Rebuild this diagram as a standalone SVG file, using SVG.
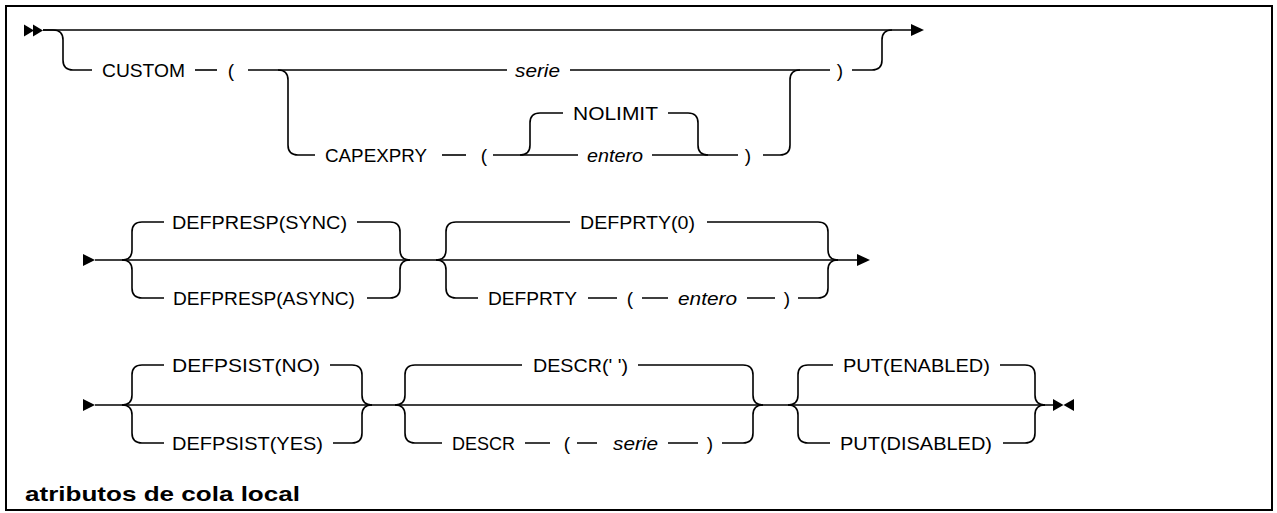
<svg xmlns="http://www.w3.org/2000/svg" width="1277" height="513" viewBox="0 0 1277 513">
<style>
.ln{fill:none;stroke:#000;stroke-width:1.6}
.t{font-family:"Liberation Sans",Arial,sans-serif;font-size:19px;fill:#000}
.i{font-style:italic}
.m{text-anchor:middle}
.ttl{font-family:"Liberation Sans",Arial,sans-serif;font-size:21px;font-weight:bold;fill:#000}
.ah{fill:#000}
</style>
<rect x="6" y="6" width="1266" height="504" fill="#fff" stroke="#000" stroke-width="2"/>
<g id="connectors">
<path class="ln" d="M43,30 H911"/>
<path class="ln" d="M43,30 H53 Q63,30 63,40 V60 Q63,70 73,70 H92"/>
<path class="ln" d="M195,70 H217"/>
<path class="ln" d="M248,70 H507"/>
<path class="ln" d="M570,70 H830"/>
<path class="ln" d="M278,70 Q288,70 288,80 V145 Q288,155 298,155 H315"/>
<path class="ln" d="M442,155 H466"/>
<path class="ln" d="M493,155 H578"/>
<path class="ln" d="M520,155 Q530,155 530,145 V123 Q530,113 540,113 H563"/>
<path class="ln" d="M668,113 H688 Q698,113 698,123 V145 Q698,155 708,155"/>
<path class="ln" d="M652,155 H738"/>
<path class="ln" d="M763,155 H780 Q790,155 790,145 V80 Q790,70 800,70"/>
<path class="ln" d="M852,70 H872 Q882,70 882,60 V40 Q882,30 892,30"/>
<path class="ln" d="M95,260 H857"/>
<path class="ln" d="M122,260 Q132,260 132,250 V232 Q132,222 142,222 H164"/>
<path class="ln" d="M122,260 Q132,260 132,270 V288 Q132,298 142,298 H164"/>
<path class="ln" d="M357,222 H390 Q400,222 400,232 V250 Q400,260 410,260"/>
<path class="ln" d="M367,298 H390 Q400,298 400,288 V270 Q400,260 410,260"/>
<path class="ln" d="M436,260 Q446,260 446,250 V232 Q446,222 456,222 H570"/>
<path class="ln" d="M436,260 Q446,260 446,270 V288 Q446,298 456,298 H478"/>
<path class="ln" d="M707,222 H818 Q828,222 828,232 V250 Q828,260 838,260"/>
<path class="ln" d="M798,298 H818 Q828,298 828,288 V270 Q828,260 838,260"/>
<path class="ln" d="M588,298 H617 M642,298 H668 M747,298 H775"/>
<path class="ln" d="M95,405 H1053"/>
<path class="ln" d="M122,405 Q132,405 132,395 V375 Q132,365 142,365 H164"/>
<path class="ln" d="M122,405 Q132,405 132,415 V433 Q132,443 142,443 H164"/>
<path class="ln" d="M330,365 H352 Q362,365 362,375 V395 Q362,405 372,405"/>
<path class="ln" d="M333,443 H352 Q362,443 362,433 V415 Q362,405 372,405"/>
<path class="ln" d="M395,405 Q405,405 405,395 V375 Q405,365 415,365 H522"/>
<path class="ln" d="M395,405 Q405,405 405,415 V433 Q405,443 415,443 H442"/>
<path class="ln" d="M638,365 H743 Q753,365 753,375 V395 Q753,405 763,405"/>
<path class="ln" d="M722,443 H743 Q753,443 753,433 V415 Q753,405 763,405"/>
<path class="ln" d="M525,443 H550 M577,443 H597 M668,443 H698"/>
<path class="ln" d="M788,405 Q798,405 798,395 V375 Q798,365 808,365 H833"/>
<path class="ln" d="M788,405 Q798,405 798,415 V433 Q798,443 808,443 H830"/>
<path class="ln" d="M1000,365 H1025 Q1035,365 1035,375 V395 Q1035,405 1045,405"/>
<path class="ln" d="M1003,443 H1025 Q1035,443 1035,433 V415 Q1035,405 1045,405"/>
<polygon class="ah" points="24,24.5 34,30.5 24,36.5"/>
<polygon class="ah" points="33,24.5 43,30.5 33,36.5"/>
<polygon class="ah" points="911,24 924,30 911,36"/>
<polygon class="ah" points="83,254 95,260 83,266"/>
<polygon class="ah" points="857,254 870,260 857,266"/>
<polygon class="ah" points="83,399 95,405 83,411"/>
<polygon class="ah" points="1053,399 1063.5,405 1053,411"/>
<polygon class="ah" points="1074,399 1063.5,405 1074,411"/>
</g>
<g id="n-custom"><text class="t" x="102" y="77" textLength="83" lengthAdjust="spacingAndGlyphs">CUSTOM</text></g>
<g id="n-custom-open"><text class="t m" x="231" y="77">(</text></g>
<g id="n-serie1"><text class="t i" x="515" y="77" textLength="45" lengthAdjust="spacingAndGlyphs">serie</text></g>
<g id="n-custom-close"><text class="t m" x="840" y="77">)</text></g>
<g id="n-capexpry"><text class="t" x="325" y="162" textLength="102" lengthAdjust="spacingAndGlyphs">CAPEXPRY</text></g>
<g id="n-cap-open"><text class="t m" x="484" y="162">(</text></g>
<g id="n-nolimit"><text class="t" x="573" y="120" textLength="85" lengthAdjust="spacingAndGlyphs">NOLIMIT</text></g>
<g id="n-entero1"><text class="t i" x="587" y="162" textLength="56" lengthAdjust="spacingAndGlyphs">entero</text></g>
<g id="n-cap-close"><text class="t m" x="748" y="162">)</text></g>
<g id="n-defpresp-sync"><text class="t" x="172" y="229" textLength="175" lengthAdjust="spacingAndGlyphs">DEFPRESP(SYNC)</text></g>
<g id="n-defpresp-async"><text class="t" x="173" y="305" textLength="182" lengthAdjust="spacingAndGlyphs">DEFPRESP(ASYNC)</text></g>
<g id="n-defprty0"><text class="t" x="580" y="229" textLength="115" lengthAdjust="spacingAndGlyphs">DEFPRTY(0)</text></g>
<g id="n-defprty"><text class="t" x="488" y="305" textLength="89" lengthAdjust="spacingAndGlyphs">DEFPRTY</text></g>
<g id="n-defprty-open"><text class="t m" x="630" y="305">(</text></g>
<g id="n-entero2"><text class="t i" x="678" y="305" textLength="59" lengthAdjust="spacingAndGlyphs">entero</text></g>
<g id="n-defprty-close"><text class="t m" x="787" y="305">)</text></g>
<g id="n-defpsist-no"><text class="t" x="172" y="372" textLength="148" lengthAdjust="spacingAndGlyphs">DEFPSIST(NO)</text></g>
<g id="n-defpsist-yes"><text class="t" x="172" y="450" textLength="151" lengthAdjust="spacingAndGlyphs">DEFPSIST(YES)</text></g>
<g id="n-descr-default"><text class="t" x="533" y="372" textLength="95" lengthAdjust="spacingAndGlyphs">DESCR(' ')</text></g>
<g id="n-descr"><text class="t" x="452" y="450" textLength="63" lengthAdjust="spacingAndGlyphs">DESCR</text></g>
<g id="n-descr-open"><text class="t m" x="567" y="450">(</text></g>
<g id="n-serie2"><text class="t i" x="613" y="450" textLength="45" lengthAdjust="spacingAndGlyphs">serie</text></g>
<g id="n-descr-close"><text class="t m" x="710" y="450">)</text></g>
<g id="n-put-enabled"><text class="t" x="843" y="372" textLength="147" lengthAdjust="spacingAndGlyphs">PUT(ENABLED)</text></g>
<g id="n-put-disabled"><text class="t" x="840" y="450" textLength="152" lengthAdjust="spacingAndGlyphs">PUT(DISABLED)</text></g>
<g id="title"><text class="ttl" x="25" y="501" textLength="275" lengthAdjust="spacingAndGlyphs">atributos de cola local</text></g>
</svg>
